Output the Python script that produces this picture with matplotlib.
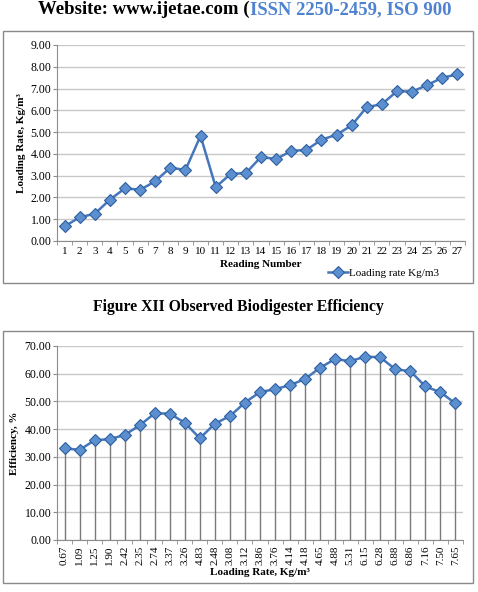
import numpy as np
import matplotlib.pyplot as plt
from matplotlib.patches import Rectangle
from matplotlib.ticker import FormatStrFormatter

# values
reading = np.arange(1, 28)
loading = [0.67, 1.09, 1.25, 1.90, 2.42, 2.35, 2.74, 3.37, 3.26, 4.83,
           2.48, 3.08, 3.12, 3.86, 3.76, 4.14, 4.18, 4.65, 4.88, 5.31,
           6.15, 6.28, 6.88, 6.86, 7.16, 7.50, 7.65]
efficiency = [33.1, 32.5, 36.0, 36.4, 37.9, 41.4, 45.7, 45.6, 42.3, 36.7,
              42.0, 44.7, 49.6, 53.4, 54.4, 55.9, 58.1, 62.2, 65.3, 64.5,
              66.2, 65.9, 61.6, 60.9, 55.4, 53.3, 49.3]
loading_labels = ['%.2f' % v for v in loading]

plt.rcParams['font.family'] = ['Liberation Serif', 'DejaVu Serif']

W, H = 478, 592
fig = plt.figure(figsize=(W / 100, H / 100), dpi=100)

def fx(px):
    return px / W

def fy(py):
    return 1 - py / H

line_c = '#4477bb'
mark_fc = '#5b8fd0'
mark_ec = '#2f5f9e'
grid_c = '#c8c8c8'
axis_c = '#8c8c8c'

# page header (black part, then blue part right after it)
t1 = fig.text(fx(38), fy(1), 'Website: www.ijetae.com (', fontsize=13.5,
              fontweight='bold', va='top', ha='left', color='black')
fig.canvas.draw()
x_end = t1.get_window_extent().x1
fig.text(x_end / W, fy(1), 'ISSN 2250-2459, ISO 900', fontsize=13.5,
         fontweight='bold', va='top', ha='left', color='#4f83d2')

# chart frames
for top, bot in [(31, 283), (331, 583)]:
    fig.patches.append(Rectangle((fx(3), fy(bot)), fx(470), (bot - top) / H,
                                 transform=fig.transFigure, fill=False,
                                 edgecolor='#8a8a8a', lw=1))

fig.text(fx(238), fy(307), 'Figure XII Observed Biodigester Efficiency',
         fontsize=11.3, fontweight='bold', ha='center', va='center')

def style(ax):
    for s in ['top', 'right']:
        ax.spines[s].set_visible(False)
    for s in ['left', 'bottom']:
        ax.spines[s].set_color(axis_c)
        ax.spines[s].set_linewidth(0.8)
    ax.grid(axis='y', color=grid_c, lw=1)
    ax.set_axisbelow(True)
    ax.tick_params(axis='y', length=3, color=axis_c, labelsize=8.5, pad=1)
    ax.tick_params(axis='x', which='major', length=0, labelsize=8, pad=4)
    ax.tick_params(axis='x', which='minor', length=3, color=axis_c)
    ax.set_xticks(np.arange(0.5, 28, 1), minor=True)
    ax.set_xlim(0.5, 27.5)

# chart 1: loading rate per reading
ax1 = fig.add_axes([fx(57), fy(241), fx(408), 196 / H])
style(ax1)
ax1.plot(reading, loading, color=line_c, lw=1.8, marker='D', ms=6,
         mfc=mark_fc, mec=mark_ec, mew=0.8, label='Loading rate Kg/m3')
ax1.set_ylim(0, 9)
ax1.set_yticks(np.arange(0, 10, 1))
ax1.yaxis.set_major_formatter(FormatStrFormatter('%.2f'))
ax1.set_xticks(reading)
ax1.set_xticklabels([str(r) for r in reading])
ax1.set_xlabel('Reading Number', fontsize=8, fontweight='bold', labelpad=3)
ax1.set_ylabel('Loading Rate, Kg/m³', fontsize=8, fontweight='bold',
               labelpad=3)
ax1.legend(loc='center left', bbox_to_anchor=(fx(322), fy(273)),
           bbox_transform=fig.transFigure, frameon=False, fontsize=8,
           handlelength=1.8, handletextpad=0.1, borderpad=0)

# chart 2: efficiency vs loading rate
ax2 = fig.add_axes([fx(57), fy(540), fx(406), 194 / H])
style(ax2)
ax2.vlines(reading, 0, efficiency, color='#7a7a7a', lw=1)
ax2.plot(reading, efficiency, color=line_c, lw=1.8, marker='D', ms=6,
         mfc=mark_fc, mec=mark_ec, mew=0.8, zorder=3)
ax2.set_ylim(0, 70)
ax2.set_yticks(np.arange(0, 71, 10))
ax2.yaxis.set_major_formatter(FormatStrFormatter('%.2f'))
ax2.set_xticks(reading)
ax2.set_xticklabels(loading_labels, rotation=90)
ax2.set_xlabel('Loading Rate, Kg/m³', fontsize=8, fontweight='bold',
               labelpad=2)
ax2.set_ylabel('Efficiency, %', fontsize=8, fontweight='bold', labelpad=4)

plt.savefig('out.png', dpi=100)
